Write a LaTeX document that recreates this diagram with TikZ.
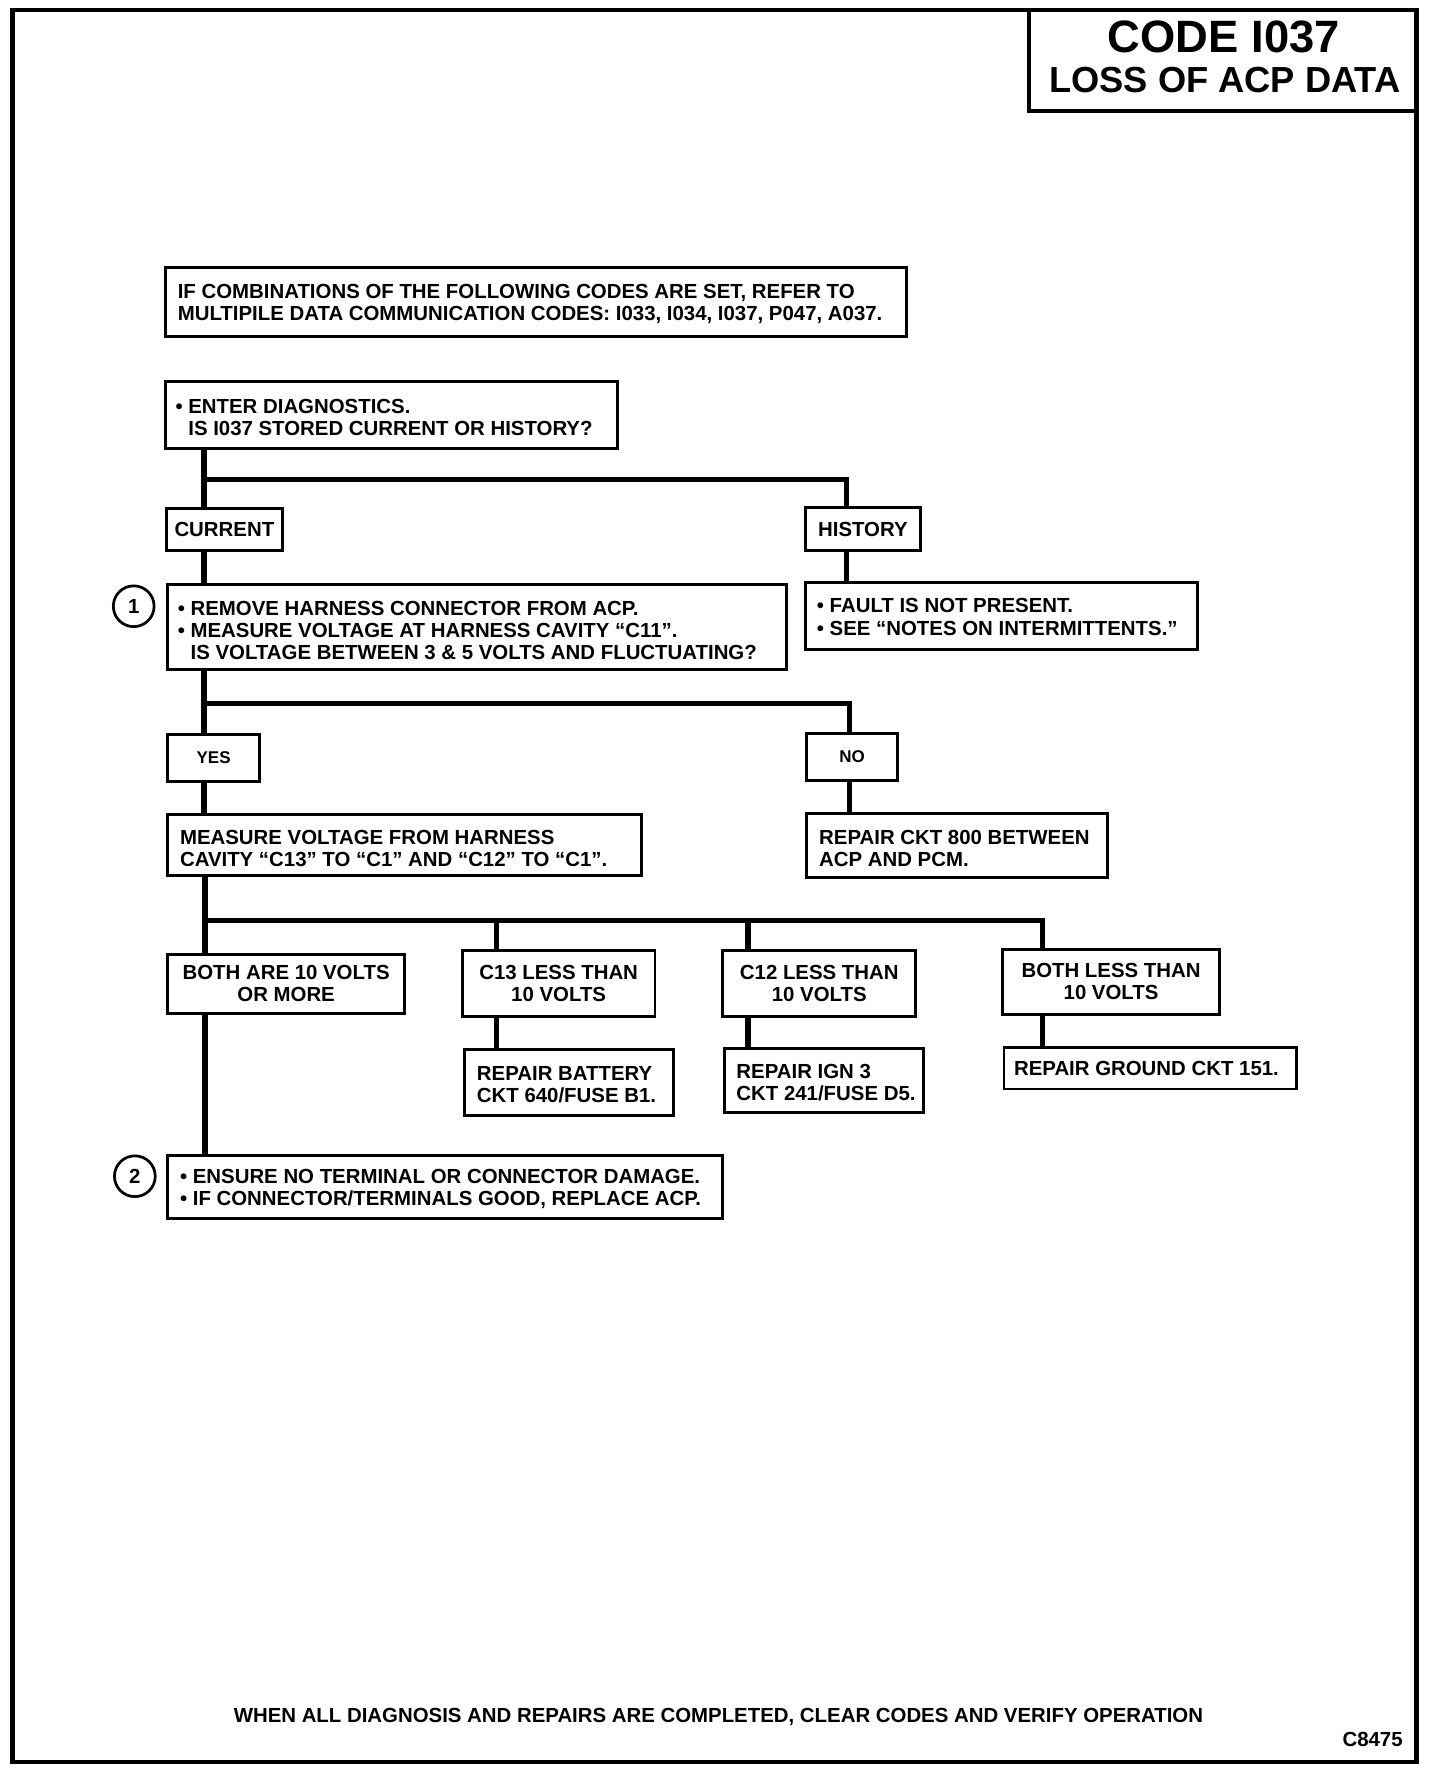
\documentclass[tikz,border=0pt]{standalone}
\usepackage{fontspec}
\setmainfont{Liberation Sans}
\begin{document}
\begin{tikzpicture}[x=1pt,y=1pt,
  every node/.style={font=\fontsize{18}{19.5}\selectfont\bfseries},
  box/.style={draw, line width=2.6pt, inner sep=0pt, align=center},
  txt/.style={inner sep=0pt, align=left, anchor=west},
  small/.style={font=\fontsize{15}{17}\selectfont\bfseries},
  conn/.style={line width=4.6pt},
  num/.style={draw, circle, line width=2.4pt, minimum size=36pt, inner sep=0pt},
]
\useasboundingbox (0,0) rectangle (1271,-1562);
% outer frame
\draw[line width=3.6pt] (11,-9) rectangle (1250,-1555);
% title
\node[box, line width=2.8pt, minimum width=342pt, minimum height=89pt] (title) at (1079,-53.5) {};
\node[inner sep=0pt, font=\fontsize{40}{44}\selectfont\bfseries] (t1) at (1080,-33) {CODE I037};
\node[inner sep=0pt, font=\fontsize{32}{36}\selectfont\bfseries] (t2) at (1081,-71) {LOSS OF ACP DATA};

% boxes
\node[box, minimum width=654pt, minimum height=61pt] (A) at (473,-266.5) {};
\node[txt] (At) at ([xshift=12pt,yshift=-2pt]A.west) {IF COMBINATIONS OF THE FOLLOWING CODES ARE SET, REFER TO\\MULTIPILE DATA COMMUNICATION CODES: I033, I034, I037, P047, A037.};

\node[box, minimum width=399pt, minimum height=59pt] (B) at (345.5,-366.5) {};
\node[txt] (Bt) at ([xshift=10pt,yshift=-2pt]B.west) {• ENTER DIAGNOSTICS.\\\phantom{• }IS I037 STORED CURRENT OR HISTORY?};

\node[box, minimum width=102pt, minimum height=37pt] (cur) at (198,-467.5) {CURRENT};
\node[box, minimum width=101pt, minimum height=38pt] (hist) at (761.5,-467) {HISTORY};

\node[box, minimum width=546pt, minimum height=75pt] (S1) at (421,-553.5) {};
\node[txt] (S1t) at ([xshift=10pt,yshift=-3pt]S1.west) {• REMOVE HARNESS CONNECTOR FROM ACP.\\• MEASURE VOLTAGE AT HARNESS CAVITY “C11”.\\\phantom{• }IS VOLTAGE BETWEEN 3 \& 5 VOLTS AND FLUCTUATING?};
\node[num] (n1) at (118,-535) {1};

\node[box, minimum width=346pt, minimum height=59pt] (fault) at (884,-543.5) {};
\node[txt] (faultt) at ([xshift=11pt,yshift=-1pt]fault.west) {• FAULT IS NOT PRESENT.\\• SEE “NOTES ON INTERMITTENTS.”};

\node[box, small, minimum width=81pt, minimum height=42pt] (yes) at (188.5,-669) {YES};
\node[box, small, minimum width=80pt, minimum height=42pt] (no) at (752,-668) {NO};

\node[box, minimum width=418pt, minimum height=54pt] (meas) at (357,-746) {};
\node[txt] (meast) at ([xshift=12pt,yshift=-3pt]meas.west) {MEASURE VOLTAGE FROM HARNESS\\CAVITY “C13” TO “C1” AND “C12” TO “C1”.};

\node[box, minimum width=265pt, minimum height=56pt] (r800) at (844.5,-746) {};
\node[txt] (r800t) at ([xshift=12pt,yshift=-3pt]r800.west) {REPAIR CKT 800 BETWEEN\\ACP AND PCM.};

\node[box, minimum width=209pt, minimum height=52pt] (both) at (252.5,-868) {BOTH ARE 10 VOLTS\\OR MORE};
\node[box, minimum width=170pt, minimum height=58pt] (c13) at (493,-868) {C13 LESS THAN\\10 VOLTS};
\node[box, minimum width=170pt, minimum height=58pt] (c12) at (723,-868) {C12 LESS THAN\\10 VOLTS};
\node[box, minimum width=191pt, minimum height=57pt] (bl) at (980.5,-866.5) {BOTH LESS THAN\\10 VOLTS};

\node[box, minimum width=184pt, minimum height=58pt] (rb) at (502,-955) {};
\node[txt] (rbt) at ([xshift=12pt,yshift=-2pt]rb.west) {REPAIR BATTERY\\CKT 640/FUSE B1.};
\node[box, minimum width=176pt, minimum height=57pt] (ri) at (727,-953.5) {};
\node[txt] (rit) at ([xshift=12pt,yshift=-2pt]ri.west) {REPAIR IGN 3\\CKT 241/FUSE D5.};
\node[box, minimum width=258pt, minimum height=37pt] (rg) at (1015,-942.5) {};
\node[txt] (rgt) at ([xshift=10pt,yshift=0pt]rg.west) {REPAIR GROUND CKT 151.};

\node[box, minimum width=490pt, minimum height=55pt] (S2) at (393,-1047.5) {};
\node[txt] (S2t) at ([xshift=12pt,yshift=-2pt]S2.west) {• ENSURE NO TERMINAL OR CONNECTOR DAMAGE.\\• IF CONNECTOR/TERMINALS GOOD, REPLACE ACP.};
\node[num] (n2) at (119,-1038) {2};

% footer
\node[inner sep=0pt] (foot) at (634,-1515) {WHEN ALL DIAGNOSIS AND REPAIRS ARE COMPLETED, CLEAR CODES AND VERIFY OPERATION};
\node[inner sep=0pt, anchor=east] (code) at (1238,-1535) {C8475};

% junction coordinates
\coordinate (j1) at (180,-423);
\coordinate (h1) at (747,-423);
\coordinate (j2) at (180,-621);
\coordinate (n2c) at (750,-621);
\coordinate (j3) at (181,-812);
\coordinate (k13) at (438,-812);
\coordinate (k12) at (660,-812);
\coordinate (kbl) at (920,-812);

% connectors
\draw[conn] (B.south -| j1) -- (cur.north -| j1);
\draw[conn] (j1) -- (h1) -- (hist.north -| h1);
\draw[conn] (cur.south -| j1) -- (S1.north -| j1);
\draw[conn] (hist.south -| h1) -- (fault.north -| h1);
\draw[conn] (S1.south -| j2) -- (yes.north -| j2);
\draw[conn] (j2) -- (n2c) -- (no.north -| n2c);
\draw[conn] (yes.south -| j2) -- (meas.north -| j2);
\draw[conn] (no.south -| n2c) -- (r800.north -| n2c);
\draw[conn] (meas.south -| j3) -- (both.north -| j3);
\draw[conn] (j3) -- (kbl) -- (bl.north -| kbl);
\draw[conn] (k13) -- (c13.north -| k13);
\draw[conn] (k12) -- (c12.north -| k12);
\draw[conn] (c13.south -| k13) -- (rb.north -| k13);
\draw[conn] (c12.south -| k12) -- (ri.north -| k12);
\draw[conn] (bl.south -| kbl) -- (rg.north -| kbl);
\draw[conn] (both.south -| j3) -- (S2.north -| j3);
\end{tikzpicture}
\end{document}
